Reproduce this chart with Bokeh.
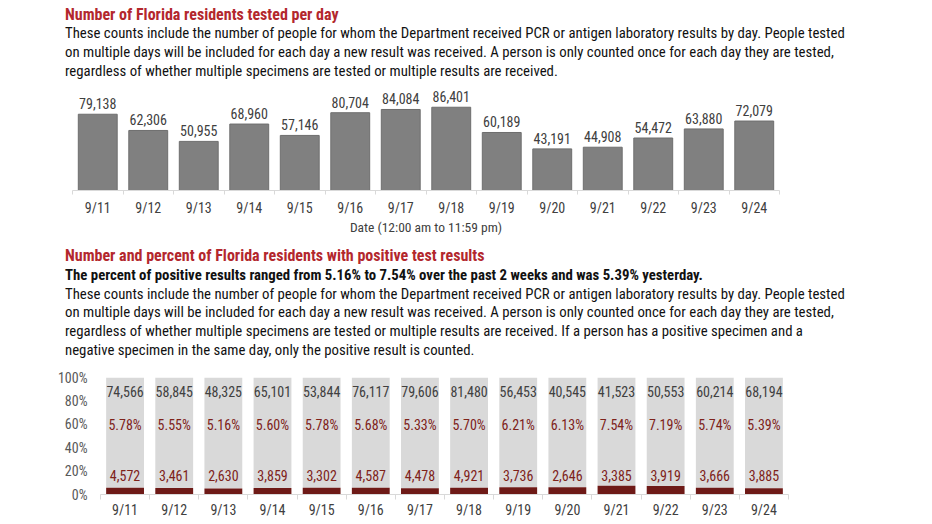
from bokeh.plotting import figure
from bokeh.models import Div, Range1d, FixedTicker, ColumnDataSource, Label, NumeralTickFormatter
from bokeh.layouts import column, row
from bokeh.embed import file_html
from bokeh.resources import INLINE
from bokeh.core.properties import value

# ---------------- data ----------------
dates = ["9/11", "9/12", "9/13", "9/14", "9/15", "9/16", "9/17",
         "9/18", "9/19", "9/20", "9/21", "9/22", "9/23", "9/24"]
tested = [79138, 62306, 50955, 68960, 57146, 80704, 84084,
          86401, 60189, 43191, 44908, 54472, 63880, 72079]
negatives = [74566, 58845, 48325, 65101, 53844, 76117, 79606,
             81480, 56453, 40545, 41523, 50553, 60214, 68194]
positives = [4572, 3461, 2630, 3859, 3302, 4587, 4478,
             4921, 3736, 2646, 3385, 3919, 3666, 3885]
pct_positive = [5.78, 5.55, 5.16, 5.60, 5.78, 5.68, 5.33,
                5.70, 6.21, 6.13, 7.54, 7.19, 5.74, 5.39]

FONT = "Roboto Condensed, DejaVu Sans Condensed, Liberation Sans"
CSS_FONT = "'Roboto Condensed','DejaVu Sans Condensed','Liberation Sans',sans-serif"
RED_TITLE = "#B3272D"
DARK_RED = "#6E1A17"
RED_TEXT = "#7E2219"
GREY_TEXT = "#404040"

n = len(dates)
xs = list(range(n))
overrides = {i: d for i, d in enumerate(dates)}
bounds = [i - 0.5 for i in range(n + 1)]

# ---------------- header texts ----------------
para1 = ("These counts include the number of people for whom the Department received PCR or antigen laboratory results by day. People tested<br>"
         "on multiple days will be included for each day a new result was received. A person is only counted once for each day they are tested,<br>"
         "regardless of whether multiple specimens are tested or multiple results are received.")
para2 = ("These counts include the number of people for whom the Department received PCR or antigen laboratory results by day. People tested<br>"
         "on multiple days will be included for each day a new result was received. A person is only counted once for each day they are tested,<br>"
         "regardless of whether multiple specimens are tested or multiple results are received. If a person has a positive specimen and a<br>"
         "negative specimen in the same day, only the positive result is counted.")

base_style = (f"font-family:{CSS_FONT};font-size:14.8px;line-height:19px;white-space:nowrap;"
              "color:#111111;padding-left:65px;")
title_style = f"color:{RED_TITLE};font-size:16px;font-weight:bold;line-height:13px;"

div1 = Div(text=(f"<div style=\"{base_style}padding-top:8px\">"
                 f"<div style=\"{title_style}margin-bottom:3px\">Number of Florida residents tested per day</div>"
                 f"{para1}</div>"),
           width=920, height=81, margin=(0, 0, 0, 0))

div2 = Div(text=(f"<div style=\"{base_style}padding-top:12px\">"
                 f"<div style=\"{title_style}margin-bottom:4px\">Number and percent of Florida residents with positive test results</div>"
                 "<div style=\"font-weight:bold;line-height:18.5px\">The percent of positive results ranged from 5.16% to 7.54% over the past 2 weeks and was 5.39% yesterday.</div>"
                 f"<div style=\"line-height:18.8px\">{para2}</div></div>"),
           width=920, height=123, margin=(0, 0, 0, 0))

# ---------------- chart 1 ----------------
src1 = ColumnDataSource(dict(x=xs, tested=tested,
                             lab=[f"{v:,}" for v in tested]))
p1 = figure(output_backend="svg", toolbar_location=None,
            frame_width=707, frame_height=106,
            min_border_left=72, min_border_right=141,
            min_border_top=3, min_border_bottom=40,
            x_range=Range1d(-0.5, n - 0.5), y_range=Range1d(0, 110000),
            margin=(0, 0, 0, 0))
p1.vbar(x="x", top="tested", width=0.77, source=src1,
        fill_color="#808080", line_color="#6E6E6E", line_width=1)
p1.text(x="x", y="tested", text="lab", source=src1,
        text_align="center", text_baseline="bottom", y_offset=-5,
        text_font=value(FONT), text_font_size="14px", text_color=GREY_TEXT)
p1.yaxis.visible = False
p1.xgrid.visible = False
p1.ygrid.visible = False
p1.outline_line_color = None
ax = p1.xaxis[0]
ax.ticker = FixedTicker(ticks=xs, minor_ticks=bounds)
ax.major_label_overrides = overrides
ax.major_tick_line_color = None
ax.major_tick_out = 0
ax.major_tick_in = 0
ax.minor_tick_line_color = "#D9D9D9"
ax.minor_tick_out = 4
ax.minor_tick_in = 0
ax.axis_line_color = "#D9D9D9"
ax.major_label_standoff = 5
ax.major_label_text_font = FONT
ax.major_label_text_font_size = "14px"
ax.major_label_text_color = GREY_TEXT
ax.axis_label = "Date (12:00 am to 11:59 pm)"
ax.axis_label_text_font = FONT
ax.axis_label_text_font_style = "normal"
ax.axis_label_text_font_size = "13.5px"
ax.axis_label_text_color = GREY_TEXT
ax.axis_label_standoff = 0

# ---------------- chart 2 ----------------
totals = [a + b for a, b in zip(negatives, positives)]
pos_share = [p / t for p, t in zip(positives, totals)]
NEG_ROW, PCT_ROW, POS_ROW = 0.88, 0.59, 0.165
src2 = ColumnDataSource(dict(
    x=xs, pos_share=pos_share, one=[1.0] * n,
    neg_lab=[f"{v:,}" for v in negatives],
    pos_lab=[f"{v:,}" for v in positives],
    pct_lab=[f"{v:.2f}%" for v in pct_positive],
    neg_y=[NEG_ROW] * n, pct_y=[PCT_ROW] * n, pos_y=[POS_ROW] * n))

p2 = figure(output_backend="svg", toolbar_location=None,
            frame_width=688, frame_height=117,
            min_border_left=100, min_border_right=132,
            min_border_top=17, min_border_bottom=18,
            x_range=Range1d(-0.5, n - 0.5), y_range=Range1d(0, 1),
            margin=(0, 0, 0, 0))
p2.vbar(x="x", bottom="pos_share", top="one", width=0.77, source=src2,
        fill_color="#D9D9D9", line_color=None)
p2.vbar(x="x", bottom=0, top="pos_share", width=0.77, source=src2,
        fill_color=DARK_RED, line_color=None)
p2.text(x="x", y="neg_y", text="neg_lab", source=src2, text_align="center",
        text_baseline="middle", text_font=value(FONT), text_font_size="14px",
        text_color=GREY_TEXT)
p2.text(x="x", y="pct_y", text="pct_lab", source=src2, text_align="center",
        text_baseline="middle", text_font=value(FONT), text_font_size="14px",
        text_color=RED_TEXT)
p2.text(x="x", y="pos_y", text="pos_lab", source=src2, text_align="center",
        text_baseline="middle", text_font=value(FONT), text_font_size="14px",
        text_color=RED_TEXT)

legend_items = [("Number of", 0.95, GREY_TEXT), ("negatives", 0.816, GREY_TEXT),
                ("Percent", 0.624, RED_TEXT), ("positive", 0.49, RED_TEXT),
                ("Number of", 0.162, RED_TEXT), ("positives", 0.034, RED_TEXT)]
for txt, yy, col in legend_items:
    p2.add_layout(Label(x=n - 0.5, y=yy, x_offset=9, text=txt,
                        text_font=FONT, text_font_size="15px",
                        text_color=col, text_baseline="middle"))

p2.xgrid.visible = False
p2.ygrid.visible = False
p2.outline_line_color = None
ax2 = p2.xaxis[0]
ax2.ticker = FixedTicker(ticks=xs, minor_ticks=bounds)
ax2.major_label_overrides = overrides
ax2.major_tick_line_color = None
ax2.major_tick_out = 0
ax2.major_tick_in = 0
ax2.minor_tick_line_color = "#D9D9D9"
ax2.minor_tick_out = 5
ax2.minor_tick_in = 0
ax2.axis_line_color = "#D9D9D9"
ax2.major_label_standoff = 2
ax2.major_label_text_font = FONT
ax2.major_label_text_font_size = "14px"
ax2.major_label_text_color = GREY_TEXT

ay2 = p2.yaxis[0]
ay2.ticker = FixedTicker(ticks=[0, 0.2, 0.4, 0.6, 0.8, 1.0])
ay2.formatter = NumeralTickFormatter(format="0%")
ay2.axis_line_color = None
ay2.major_tick_line_color = None
ay2.minor_tick_line_color = None
ay2.major_tick_out = 0
ay2.major_label_standoff = 13
ay2.major_label_text_font = FONT
ay2.major_label_text_font_size = "14px"
ay2.major_label_text_color = "#595959"

layout = column(div1, row(p1, margin=(0, 0, 0, 0)), div2,
                row(p2, margin=(0, 0, 0, 0)), spacing=0, margin=(0, 0, 0, 0))

open("out.html", "w").write(file_html(layout, INLINE))
